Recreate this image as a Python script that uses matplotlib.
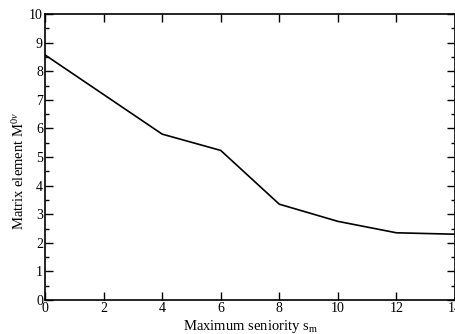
import matplotlib
matplotlib.use("Agg")
import matplotlib.pyplot as plt
from matplotlib.ticker import MultipleLocator

plt.rcParams['font.family'] = ['Liberation Serif', 'DejaVu Serif']
plt.rcParams['mathtext.fontset'] = 'custom'
plt.rcParams['mathtext.rm'] = 'Liberation Serif'
plt.rcParams['mathtext.it'] = 'Liberation Serif:italic'

seniority = [0, 4, 6, 8, 10, 12, 14]
matrix_element = [8.57, 5.8, 5.23, 3.35, 2.75, 2.35, 2.3]

fig = plt.figure(figsize=(4.56, 3.34), dpi=100)
ax = fig.add_axes([45/456, 34/334, 410/456, 286/334])
ax.plot(seniority, matrix_element, color='black', lw=1.2)
ax.set_xlim(0, 14)
ax.set_ylim(0, 10)
ax.xaxis.set_major_locator(MultipleLocator(2))
ax.yaxis.set_major_locator(MultipleLocator(1))
ax.yaxis.set_minor_locator(MultipleLocator(0.5))
ax.tick_params(which='both', direction='in', top=True, right=True, labelsize=10, pad=1.5)
ax.tick_params(which='major', length=6, width=1)
ax.tick_params(which='minor', length=3, width=1)
for s in ax.spines.values():
    s.set_linewidth(1.2)
ax.set_xlabel('Maximum seniority s$_\\mathregular{m}$', fontsize=10.5, labelpad=2)
ax.set_ylabel('Matrix element M$^{\\mathregular{0}\\nu}$', fontsize=10.5)
ax.yaxis.set_label_coords(-0.045, 0.45)
fig.savefig('out.png', dpi=100)
